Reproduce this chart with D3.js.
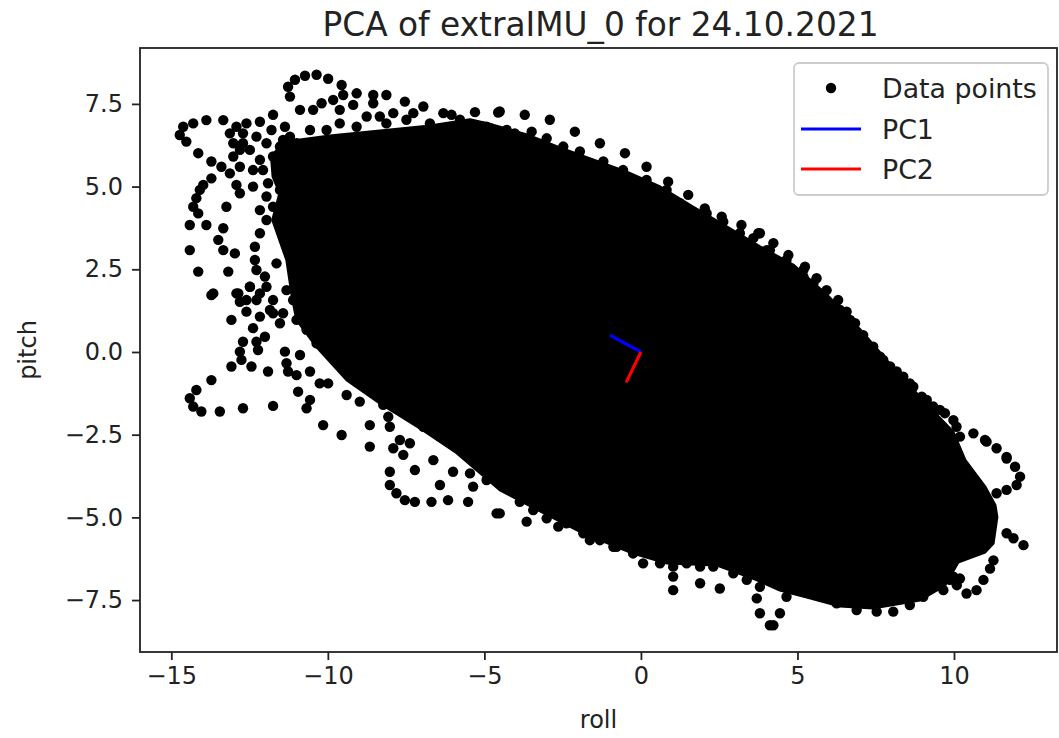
<!DOCTYPE html>
<html><head><meta charset="utf-8">
<script src="https://cdn.jsdelivr.net/npm/d3@7"></script>
<style>
body{margin:0;background:#fff;}
svg{display:block;}
text{font-family:"DejaVu Sans",sans-serif;fill:#222;}
</style>
</head><body>
<svg id="chart" width="1059" height="738"></svg>
<script>
// ---------------- data ----------------
const chartTitle = "PCA of extraIMU_0 for 24.10.2021";
const xLabel = "roll";
const yLabel = "pitch";
const xTicks = [-15, -10, -5, 0, 5, 10];
const yTicks = [-7.5, -5, -2.5, 0, 2.5, 5, 7.5];
const xDomain = [-16.0, 13.29];
const yDomain = [-9.07, 9.19];
const legendLabels = ["Data points", "PC1", "PC2"];

// outline (roll, pitch) of the region where the data points overlap completely
const coreOutline = [
  [-10.89,6.41],[-9.94,6.53],[-8.34,6.68],[-6.74,6.83],[-5.46,7.02],[-4.73,6.86],[-3.64,6.56],
  [-2.59,6.17],[-1.53,5.81],[-0.45,5.44],[0.61,4.99],[1.66,4.38],[2.75,3.78],[3.80,3.18],
  [4.86,2.63],[5.94,1.72],[7.00,0.67],[8.05,-0.48],[9.14,-1.60],[9.97,-2.42],[10.35,-3.27],
  [10.99,-4.08],[11.31,-4.63],[11.37,-4.99],[11.25,-5.78],[10.99,-6.05],[10.13,-6.35],[9.71,-7.05],
  [8.91,-7.50],[7.41,-7.74],[6.36,-7.68],[5.30,-7.41],[4.44,-7.20],[3.71,-6.89],[2.43,-6.44],
  [0.83,-6.38],[-0.26,-6.08],[-1.85,-5.47],[-3.45,-4.69],[-4.50,-4.17],[-5.88,-3.05],[-6.96,-2.36],
  [-8.34,-1.54],[-9.39,-0.85],[-10.35,0.15],[-10.99,0.97],[-11.12,1.57],[-11.31,2.78],[-11.76,3.99],
  [-11.53,4.81],[-11.75,5.30],[-11.80,5.90],[-11.40,6.35]
];

// individually visible data points (roll, pitch) around the dense core
const edgePoints = [
  // upper left loops
  [-11.21,7.72],[-11.27,8.02],[-11.05,8.23],[-10.73,8.35],[-10.36,8.38],[-9.99,8.26],[-9.56,8.07],
  [-9.08,7.82],[-8.55,7.77],[-8.13,7.77],[-7.54,7.57],[-6.95,7.42],[-6.31,7.22],[-6.05,7.17],
  [-5.30,7.25],[-4.56,7.24],[-10.89,7.32],[-10.47,7.32],[-10.20,7.52],[-9.83,7.62],[-9.51,7.77],
  [-9.19,7.47],[-8.55,7.52],[-8.34,7.12],[-7.91,7.22],[-7.49,7.02],
  [-14.62,6.81],[-14.73,6.56],[-14.52,6.36],[-14.30,6.91],[-13.88,7.01],[-13.34,7.01],[-12.92,6.81],
  [-12.60,6.91],[-12.17,6.96],[-11.75,7.17],[-11.37,6.81],[-11.80,6.71],
  [-14.14,6.01],[-13.72,5.76],[-13.40,5.60],[-13.13,5.40],[-13.72,5.25],[-13.98,5.05],[-14.09,4.90],
  [-14.20,4.65],[-14.30,4.39],[-14.14,4.19],[-13.24,4.39],[-14.41,3.84],[-13.88,3.84],[-13.34,3.74],
  [-13.50,3.39],[-13.34,3.08],[-12.97,2.98],[-14.41,3.08],[-14.14,2.43],[-13.18,2.43],[-12.33,3.18],
  [-12.17,3.59],[-12.33,2.78],[-12.28,2.48],[-11.64,2.68],[-13.66,1.77],[-12.86,1.77],[-12.49,1.97],
  [-12.01,2.28],[-12.92,5.05],[-13.02,5.91],[-12.71,6.31],[-13.13,6.61],[-12.71,6.61],[-12.28,6.51],
  [-12.49,6.11],[-12.81,5.60],[-12.39,5.50],[-12.17,5.81],[-11.91,5.10],[-11.43,5.50],[-11.11,5.91],
  [-10.57,6.71],[-10.04,6.71],[-9.62,6.91],[-9.08,6.81],[-11.43,6.41],[-11.00,6.31],
  // dense cluster at the upper left of the core
  [-13.02,6.31],[-12.81,6.11],[-11.96,6.31],[-11.75,5.91],[-11.53,6.21],[-11.21,6.51],[-12.39,5.00],
  [-12.07,5.50],[-12.81,4.80],[-11.53,4.90],[-11.32,4.60],[-11.75,4.39],[-11.96,4.70],[-12.17,4.29],
  [-11.96,3.99],[-8.76,7.12],[-8.13,6.91],[-7.27,7.22],[-6.74,6.91],[-5.78,7.02],[-4.93,6.81],
  [-9.62,7.32],
  // left and lower left
  [-13.72,1.72],[-12.92,1.77],[-12.81,1.52],[-12.60,1.22],[-13.08,0.97],[-12.39,0.72],[-12.01,0.46],
  [-12.28,0.31],[-12.71,0.31],[-12.81,0.01],[-12.23,0.06],[-12.76,-0.24],[-12.44,-0.44],[-13.08,-0.44],
  [-11.91,-0.59],[-13.72,-0.85],[-14.20,-1.15],[-14.41,-1.40],[-14.30,-1.65],[-14.04,-1.80],
  [-13.45,-1.80],[-12.71,-1.70],[-11.75,-1.63],[-11.37,0.01],[-10.89,-0.09],[-11.32,-0.34],
  [-11.27,-0.59],[-11.00,-0.70],[-10.57,-0.59],[-10.26,-0.95],[-9.99,-0.95],[-10.95,-1.20],
  [-10.57,-1.45],[-10.68,-1.70],[-10.15,-2.21],[-9.56,-2.51],[-8.66,-2.21],[-8.66,-2.86],[-8.02,-2.26],
  [-7.91,-2.91],[-7.70,-2.66],[-7.59,-3.11],[-7.38,-2.76],[-8.02,-3.62],[-7.22,-3.57],[-6.42,-4.02],
  [-8.02,-4.02],[-7.81,-4.27],[-7.54,-4.48],[-7.22,-4.53],[-6.69,-4.53],[-6.16,-4.48],[-5.52,-4.53],
  [-4.61,-4.88],[-6.63,-3.27],[-6.00,-3.62],[-5.46,-3.67],[-5.14,-3.47],[-5.36,-4.07],[-4.93,-3.87],
  [-9.40,-1.30],[-8.98,-1.50],[-8.23,-1.60],[-8.07,-1.96],[-11.43,1.17],[-11.53,0.87],[-11.75,1.57],
  [-12.17,1.07],[-11.96,1.97],[-11.32,1.87],[-12.28,1.57],[-11.11,1.57],[-11.75,1.17],
  [-12.49,1.97],[-12.60,1.57],[-11.85,1.27],[-12.17,1.77],
  // lower left edge of the core
  [-11.00,0.97],[-10.68,0.67],[-10.36,0.26],[-9.94,-0.04],[-9.62,-0.34],[-9.19,-0.75],[-8.76,-1.05],
  [-8.34,-1.35],[-7.91,-1.65],[-7.49,-1.85],[-6.95,-2.26],[-6.42,-2.56],[-5.89,-2.86],[-5.36,-3.06],
  [-4.82,-3.27],
  // bottom
  [-4.51,-4.88],[-3.65,-5.13],[-3.01,-5.03],[-2.64,-5.28],[-3.44,-4.78],[-3.87,-4.53],[-1.63,-5.69],
  [-0.88,-5.89],[0.07,-6.39],[1.03,-6.79],[1.03,-7.20],[1.89,-6.99],[2.52,-7.15],[3.70,-7.45],
  [3.80,-7.90],[4.12,-8.26],[4.23,-8.26],[4.44,-7.90],[4.65,-7.40],[5.40,-7.30],[6.25,-7.60],
  [6.89,-7.80],[7.53,-7.85],[8.06,-7.85],[8.59,-7.65],[9.02,-7.40],[9.66,-7.20],[10.09,-7.05],
  [10.40,-7.30],[10.72,-7.20],[10.94,-6.89],[11.15,-6.55],[11.26,-6.30],[10.19,-6.85],[9.98,-6.79],
  [-2.38,-5.18],[-1.84,-5.48],[-1.31,-5.69],[-0.78,-5.89],[-0.25,-6.09],[0.61,-6.39],[1.03,-6.49],
  [1.46,-6.39],[1.89,-6.49],[2.31,-6.49],[2.95,-6.69],[3.38,-6.89],[3.80,-7.10],[4.33,-6.89],
  [4.87,-7.10],[5.51,-7.20],[6.14,-7.10],[6.78,-7.30],[7.42,-7.50],[8.06,-7.50],[8.70,-7.40],
  [9.34,-7.10],[9.87,-6.89],
  // right loops
  [10.62,-2.46],[10.99,-2.66],[11.36,-2.91],[11.68,-3.22],[11.95,-3.47],[12.11,-3.77],[12.00,-4.02],
  [11.68,-4.17],[11.36,-4.27],[11.90,-5.63],[12.22,-5.84],[11.68,-5.48],
  // upper right edge
  [3.80,3.59],[4.23,3.29],[4.71,2.93],[5.24,2.58],[5.61,2.23],[5.93,1.87],[6.30,1.57],[6.57,1.22],
  [6.84,0.87],[7.10,0.51],[7.42,0.16],[7.74,-0.24],[8.17,-0.59],[8.59,-0.95],[8.97,-1.35],
  [9.34,-1.65],[9.71,-1.85],[10.08,-2.26],[11.04,-2.71],[11.68,-3.17],
  [4.02,3.08],[4.44,2.68],[4.76,2.48],[5.19,2.28],[5.51,2.08],[5.83,1.67],[6.36,1.27],[6.68,0.97],
  [7.00,0.46],[7.32,0.16],[7.64,-0.14],[7.96,-0.44],[8.38,-0.75],[8.70,-1.05],[9.13,-1.45],
  [9.55,-1.75],[9.98,-2.06],[10.19,-2.56],
  // top edge
  [-4.51,7.27],[-3.71,7.17],[-2.91,7.02],[-2.11,6.66],[-1.31,6.31],[-0.51,6.01],[0.18,5.60],
  [0.87,5.15],[1.51,4.75],[2.04,4.34],[2.58,4.09],[3.21,3.84],[3.75,3.59],
  [-5.04,6.81],[-4.29,6.71],[-4.03,6.61],[-3.49,6.66],[-3.01,6.46],[-2.48,6.21],[-1.95,6.06],
  [-1.20,5.76],[-0.57,5.50],[0.18,5.20],[0.82,4.90],[1.25,4.50],[1.67,4.19],[2.10,4.19],
  [2.63,3.94],[3.16,3.59],[3.59,3.44],[4.12,3.08],[4.65,2.78],[5.19,2.48]
];

// principal component vectors drawn from the mean
const pcOrigin = [0, 0];
const pc1End = [-0.99, 0.51];
const pc2End = [-0.47, -0.92];

// ---------------- chart ----------------
const W = 1059, H = 738;
const m = {left: 140, top: 48, right: 1057, bottom: 652};
const svg = d3.select("#chart");
svg.append("rect").attr("width", W).attr("height", H).attr("fill", "#fff");

const x = d3.scaleLinear().domain(xDomain).range([m.left, m.right]);
const y = d3.scaleLinear().domain(yDomain).range([m.bottom, m.top]);

svg.append("clipPath").attr("id", "clip").append("rect")
  .attr("x", m.left).attr("y", m.top)
  .attr("width", m.right - m.left).attr("height", m.bottom - m.top);

const plot = svg.append("g").attr("clip-path", "url(#clip)");
const R = 5.2;

plot.append("path")
  .datum(coreOutline)
  .attr("d", d3.line().x(d => x(d[0])).y(d => y(d[1])).curve(d3.curveLinearClosed))
  .attr("fill", "#000").attr("stroke", "#000").attr("stroke-width", 3)
  .attr("stroke-linejoin", "round");

plot.selectAll("circle.pt").data(edgePoints).join("circle")
  .attr("class", "pt")
  .attr("cx", d => x(d[0])).attr("cy", d => y(d[1])).attr("r", R)
  .attr("fill", "#000");

plot.append("line")
  .attr("x1", x(pcOrigin[0])).attr("y1", y(pcOrigin[1]))
  .attr("x2", x(pc1End[0])).attr("y2", y(pc1End[1]))
  .attr("stroke", "#0000ff").attr("stroke-width", 3.2);
plot.append("line")
  .attr("x1", x(pcOrigin[0])).attr("y1", y(pcOrigin[1]))
  .attr("x2", x(pc2End[0])).attr("y2", y(pc2End[1]))
  .attr("stroke", "#ff0000").attr("stroke-width", 3.2);

// axes
const fontPx = 24;
const xAxis = svg.append("g").attr("transform", `translate(0,${m.bottom})`)
  .call(d3.axisBottom(x).tickValues(xTicks).tickSize(8).tickPadding(7)
    .tickFormat(v => String(v).replace("-", "\u2212")));
const yAxis = svg.append("g").attr("transform", `translate(${m.left},0)`)
  .call(d3.axisLeft(y).tickValues(yTicks).tickSize(8).tickPadding(9)
    .tickFormat(v => v.toFixed(1).replace("-", "\u2212")));
[xAxis, yAxis].forEach(g => {
  g.select(".domain").remove();
  g.selectAll(".tick line").attr("stroke", "#222").attr("stroke-width", 1.8);
  g.selectAll(".tick text").attr("font-size", fontPx).attr("fill", "#222")
    .attr("font-family", "DejaVu Sans");
});

// spines
svg.append("rect")
  .attr("x", m.left).attr("y", m.top)
  .attr("width", m.right - m.left).attr("height", m.bottom - m.top)
  .attr("fill", "none").attr("stroke", "#222").attr("stroke-width", 1.8);

// titles
svg.append("text").attr("x", (m.left + m.right) / 2 + 2).attr("y", 36)
  .attr("text-anchor", "middle").attr("font-size", 32.8).text(chartTitle);
svg.append("text").attr("x", (m.left + m.right) / 2).attr("y", 728)
  .attr("text-anchor", "middle").attr("font-size", fontPx).text(xLabel);
svg.append("text").attr("transform", `translate(36,${(m.top + m.bottom) / 2}) rotate(-90)`)
  .attr("text-anchor", "middle").attr("font-size", fontPx).text(yLabel);

// legend
const lg = svg.append("g");
lg.append("rect").attr("x", 794).attr("y", 63).attr("width", 254).attr("height", 132)
  .attr("rx", 5).attr("fill", "#fff").attr("fill-opacity", 0.8)
  .attr("stroke", "#cccccc").attr("stroke-width", 1.8);
const rows = [88, 129, 169];
lg.append("circle").attr("cx", 831).attr("cy", rows[0]).attr("r", R).attr("fill", "#000");
lg.append("line").attr("x1", 801).attr("x2", 861).attr("y1", rows[1]).attr("y2", rows[1])
  .attr("stroke", "#0000ff").attr("stroke-width", 3.2);
lg.append("line").attr("x1", 801).attr("x2", 861).attr("y1", rows[2]).attr("y2", rows[2])
  .attr("stroke", "#ff0000").attr("stroke-width", 3.2);
legendLabels.forEach((t, i) => {
  lg.append("text").attr("x", 882).attr("y", rows[i]).attr("dy", "0.36em")
    .attr("font-size", 26.8).text(t);
});
</script>
</body></html>
